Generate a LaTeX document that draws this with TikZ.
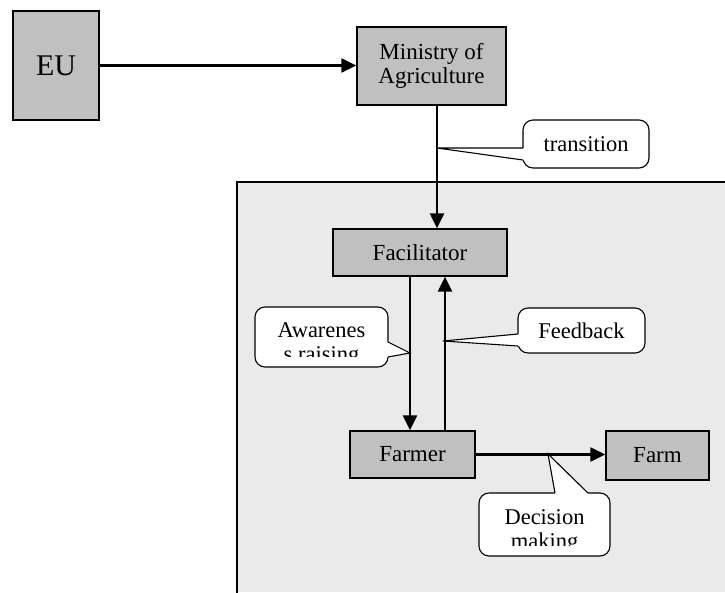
\documentclass[tikz,border=0pt]{standalone}
\usepackage{fontspec}
\setmainfont{Liberation Serif}
\usetikzlibrary{arrows.meta}
\definecolor{boxgray}{HTML}{C0C0C0}
\definecolor{areagray}{HTML}{EAEAEA}

\begin{document}
\begin{tikzpicture}[x=1pt,y=-1pt,
    actor/.style={draw,line width=1.3pt,fill=boxgray,inner sep=0pt,
      align=center,font=\fontsize{23}{24}\selectfont},
    note/.style={inner sep=0pt,align=center,font=\fontsize{22.5}{24}\selectfont},
    bubble/.style={note,draw,line width=1.1pt,fill=white,rounded corners=10pt},
    flow/.style={line width=2.2pt,-{Triangle[length=15pt,width=14pt]}},
    pointer/.style={line width=1.1pt}]
\useasboundingbox (0,0) rectangle (725,592);
% farm level area
\fill[areagray] (237,182) rectangle (725,592);
\draw[line width=1.3pt] (237,593) -- (237,182) -- (726,182);

\draw (56,65.5)     node (eu)     [actor,minimum width=86pt,minimum height=109pt,
                                   font=\fontsize{30}{34}\selectfont] {EU};
\draw (431.5,66)    node (min)    [actor,minimum width=149pt,minimum height=78pt] {Ministry of\\Agriculture};
\draw (420,252.5)   node (fac)    [actor,minimum width=174pt,minimum height=47pt] {Facilitator};
\draw (412.5,454.5) node (farmer) [actor,minimum width=125pt,minimum height=47pt] {Farmer};
\draw (657.5,455.5) node (farm)   [actor,minimum width=103pt,minimum height=49pt] {Farm};

% where the callouts point
\coordinate (trans-tip) at (437,148);
\coordinate (aware-tip) at (410,353);
\coordinate (feed-tip)  at (443,341);
\coordinate (dec-tip)   at (548,454);

% transition
\draw (586,144) node (trans) [bubble,minimum width=126pt,minimum height=48pt] {transition};
\fill[white] (525,148) -- (523,148) -- (trans-tip) -- (523,160) -- (525,160) -- cycle;
\draw[pointer] (523,148) -- (trans-tip) -- (523,160);

% awareness raising
\draw (321.5,337) node (aware) [bubble,minimum width=133pt,minimum height=60pt] {};
\fill[white] (386,342) -- (388,342) -- (aware-tip) -- (388,357) -- (386,357) -- cycle;
\draw[pointer] (388,342) -- (aware-tip) -- (388,357);
\begin{scope}
  \clip (255,307) rectangle (388,356);
  \draw (321.5,344.1) node (aware-text) [note] {Awarenes\\s raising};
\end{scope}

% feedback
\draw (581.5,330.5) node (feed) [bubble,minimum width=127pt,minimum height=45pt] {Feedback};
\fill[white] (520,334) -- (518,334) -- (feed-tip) -- (518,346) -- (520,346) -- cycle;
\draw[pointer] (518,334) -- (feed-tip) -- (518,346);

% decision making
\draw (544.5,524.5) node (dec) [bubble,minimum width=131pt,minimum height=63pt] {};
\fill[white] (555,495) -- (555,493) -- (dec-tip) -- (588,493) -- (588,495) -- cycle;
\draw[pointer] (555,493) -- (dec-tip) -- (588,493);
\begin{scope}
  \clip (479,493) rectangle (610,545);
  \draw (544.5,531.1) node (dec-text) [note] {Decision\\making};
\end{scope}

% connectors
\draw[flow] (eu.east) -- (eu.east -| min.west);
\draw[flow] ([xshift=5.5pt]min.south) -- ([xshift=5.5pt]min.south |- fac.north);
\draw[flow] ([xshift=-10pt]fac.south) -- ([xshift=-10pt]fac.south |- farmer.north);
\draw[flow] ([xshift=32.5pt]farmer.north) -- ([xshift=32.5pt]farmer.north |- fac.south);
\draw[flow] (farmer.east) -- (farmer.east -| farm.west);
\end{tikzpicture}
\end{document}
